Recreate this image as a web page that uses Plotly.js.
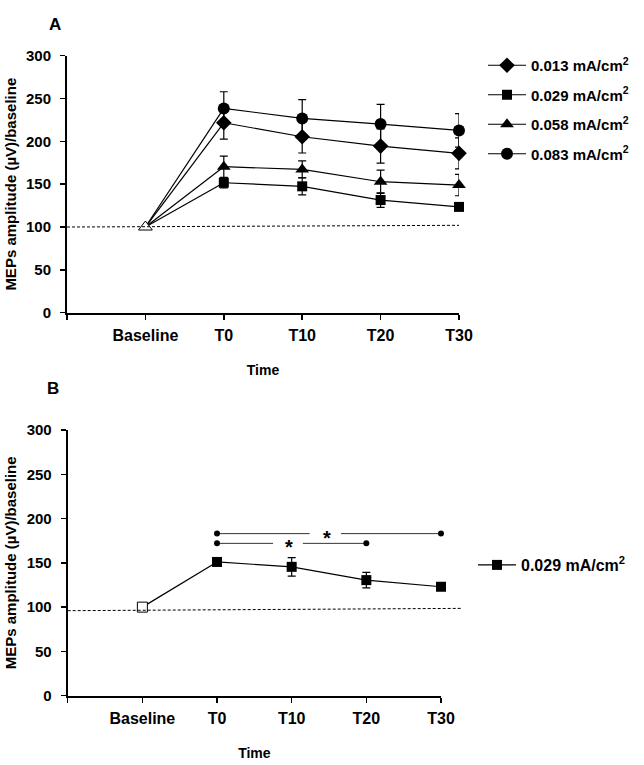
<!DOCTYPE html>
<html>
<head>
<meta charset="utf-8">
<script src="https://cdn.plot.ly/plotly-3.0.1.min.js"></script>
<style>html,body{margin:0;padding:0;background:#fff;}#chart{width:644px;height:765px;}</style>
</head>
<body>
<div id="chart"></div>
<script>
// ---------- data ----------
const timeLabels = ['Baseline', 'T0', 'T10', 'T20', 'T30'];
const postLabels = ['T0', 'T10', 'T20', 'T30'];
const baselineValue = 100;

const namesA = ['0.013 mA/cm<sup>2</sup>', '0.029 mA/cm<sup>2</sup>', '0.058 mA/cm<sup>2</sup>', '0.083 mA/cm<sup>2</sup>'];
const a013 = [221.7, 205.4, 194.5, 186.0];
const a013Err = [19, 19, 20, 18];
const a029 = [151.7, 147.5, 131.5, 123.5];
const a029Err = [6, 10, 8.5, 4];
const a058 = [170.4, 167.3, 152.9, 149.0];
const a058Err = [12.4, 10, 13.6, 12.5];
const a083 = [238.5, 226.8, 220.2, 212.8];
const a083Err = [19.4, 22, 23, 19.5];

const nameB = '0.029 mA/cm<sup>2</sup>';
const b029 = [151.0, 145.5, 130.5, 123.0];
const b029Err = [4, 10.5, 8.7, 3.5];

// dashed reference lines (x in category index units, Baseline = 0)
const refAx = [-1, 4.0];
const refAy = [100, 102];
const refBx = [-1, 4.29];
const refBy = [96, 98.6];

// significance brackets in panel B
const sig1From = 'T0', sig1To = 'T30', sig1Y = 183, sig1StarX = 2.47, sig1Gap = [2.24, 2.66];
const sig2From = 'T0', sig2To = 'T20', sig2Y = 172, sig2StarX = 1.96, sig2Gap = [1.75, 2.15];

// ---------- helpers ----------
const xOf = l => timeLabels.indexOf(l);
const xRange = [-1, 4];
const FONT = 'Liberation Sans, Arial, sans-serif';

const traces = [];
function addSeries(vals, errs, name, symbol, size, xa, ya, legendName) {
  traces.push({
    x: [xOf('Baseline'), xOf('T0')], y: [baselineValue, vals[0]],
    mode: 'lines', line: {color: '#000', width: 1.2},
    showlegend: false, hoverinfo: 'skip', xaxis: xa, yaxis: ya
  });
  traces.push({
    x: postLabels.map(xOf), y: vals, name: name, legendgroup: name + xa,
    legend: legendName, cliponaxis: false,
    mode: 'lines+markers',
    line: {color: '#000', width: 1.2},
    marker: {symbol: symbol, size: size, color: '#000'},
    error_y: {type: 'data', array: errs, visible: true, color: '#000', thickness: 1.2, width: 4},
    xaxis: xa, yaxis: ya
  });
}
addSeries(a013, a013Err, namesA[0], 'diamond', 12, 'x', 'y', 'legend');
addSeries(a029, a029Err, namesA[1], 'square', 10, 'x', 'y', 'legend');
addSeries(a058, a058Err, namesA[2], 'triangle-up', 12, 'x', 'y', 'legend');
addSeries(a083, a083Err, namesA[3], 'circle', 12, 'x', 'y', 'legend');
traces.push({
  x: [xOf('Baseline')], y: [baselineValue], mode: 'markers', cliponaxis: false,
  marker: {symbol: 'triangle-up', size: 12, color: '#fff', line: {color: '#000', width: 1}},
  showlegend: false, xaxis: 'x', yaxis: 'y'
});

addSeries(b029, b029Err, nameB, 'square', 10, 'x2', 'y2', 'legend2');
traces.push({
  x: [xOf('Baseline')], y: [baselineValue], mode: 'markers', cliponaxis: false,
  marker: {symbol: 'square', size: 10, color: '#fff', line: {color: '#000', width: 1}},
  showlegend: false, xaxis: 'x2', yaxis: 'y2'
});

function addBracket(from, to, y, gap) {
  traces.push({
    x: [xOf(from), gap[0], null, gap[1], xOf(to)], y: [y, y, null, y, y],
    mode: 'lines', line: {color: '#333', width: 1}, connectgaps: false,
    showlegend: false, hoverinfo: 'skip', xaxis: 'x2', yaxis: 'y2'
  });
  traces.push({
    x: [xOf(from), xOf(to)], y: [y, y], mode: 'markers', cliponaxis: false,
    marker: {symbol: 'circle', size: 6, color: '#000'},
    showlegend: false, hoverinfo: 'skip', xaxis: 'x2', yaxis: 'y2'
  });
}
addBracket(sig1From, sig1To, sig1Y, sig1Gap);
addBracket(sig2From, sig2To, sig2Y, sig2Gap);

const toDom = x => (x - xRange[0]) / (xRange[1] - xRange[0]);
const shapes = [
  {type: 'line', xref: 'x domain', yref: 'y', x0: toDom(refAx[0]), x1: toDom(refAx[1]), y0: refAy[0], y1: refAy[1],
   line: {color: '#000', width: 1, dash: '3px,2px'}},
  {type: 'line', xref: 'x2 domain', yref: 'y2', x0: toDom(refBx[0]), x1: toDom(refBx[1]), y0: refBy[0], y1: refBy[1],
   line: {color: '#000', width: 1, dash: '3px,2px'}}
];

const tickFontX = {family: FONT, size: 16, color: '#000', weight: 'bold'};
const tickFontY = {family: FONT, size: 15, color: '#000', weight: 'bold'};
const titleFont = {family: FONT, size: 14, color: '#000', weight: 'bold'};
const yTitleFont = {family: FONT, size: 15, color: '#000', weight: 'bold'};

function xAxis(domain, anchor) {
  return {
    domain: domain, anchor: anchor, range: xRange, fixedrange: true,
    tickmode: 'array', tickvals: [-1].concat(timeLabels.map(xOf)), ticktext: [' '].concat(timeLabels),
    showline: true, linecolor: '#000', linewidth: 2, ticks: 'outside', ticklen: 5, tickwidth: 1.5, tickcolor: '#000',
    showgrid: false, zeroline: false, tickfont: tickFontX, ticklabelstandoff: 2,
    title: {text: 'Time', font: titleFont, standoff: 22}
  };
}
function yAxis(domain, anchor) {
  return {
    domain: domain, anchor: anchor, range: [0, 300], fixedrange: true,
    tickvals: [0, 50, 100, 150, 200, 250, 300],
    showline: true, linecolor: '#000', linewidth: 2, ticks: 'outside', ticklen: 5, tickwidth: 1.5, tickcolor: '#000',
    showgrid: false, zeroline: false, tickfont: tickFontY, ticklabelstandoff: 6,
    title: {text: 'MEPs amplitude (µV)/baseline', font: yTitleFont, standoff: 6}
  };
}

const layout = {
  width: 644, height: 765,
  margin: {l: 0, r: 0, t: 0, b: 0},
  paper_bgcolor: '#fff', plot_bgcolor: '#fff',
  showlegend: true,
  xaxis: xAxis([67 / 644, 459 / 644], 'y'),
  yaxis: yAxis([(765 - 312.7) / 765, (765 - 55.7) / 765], 'x'),
  xaxis2: xAxis([67.7 / 644, 441 / 644], 'y2'),
  yaxis2: yAxis([(765 - 695.7) / 765, (765 - 430) / 765], 'x2'),
  legend: {x: 483 / 644, y: (765 - 49) / 765, xanchor: 'left', yanchor: 'top',
           font: {family: FONT, size: 15, color: '#000', weight: 'bold'},
           itemwidth: 38, traceorder: 'grouped', tracegroupgap: 7, bgcolor: 'rgba(0,0,0,0)'},
  legend2: {x: 473 / 644, y: (765 - 565) / 765, xanchor: 'left', yanchor: 'middle',
            font: {family: FONT, size: 16, color: '#000', weight: 'bold'},
            itemwidth: 38, bgcolor: 'rgba(0,0,0,0)'},
  shapes: shapes,
  annotations: [
    {text: 'A', xref: 'paper', yref: 'paper', x: 47 / 644, y: (765 - 13) / 765, showarrow: false,
     font: {family: FONT, size: 17, color: '#000', weight: 'bold'}},
    {text: 'B', xref: 'paper', yref: 'paper', x: 45 / 644, y: (765 - 388) / 765, showarrow: false,
     font: {family: FONT, size: 17, color: '#000', weight: 'bold'}},
    {text: '*', xref: 'x2', yref: 'y2', x: sig1StarX, y: sig1Y, yshift: -4, showarrow: false,
     font: {family: FONT, size: 20, color: '#000', weight: 'bold'}},
    {text: '*', xref: 'x2', yref: 'y2', x: sig2StarX, y: sig2Y, yshift: -4, showarrow: false,
     font: {family: FONT, size: 20, color: '#000', weight: 'bold'}}
  ]
};

Plotly.newPlot('chart', traces, layout, {displayModeBar: false, staticPlot: true});
</script>
</body>
</html>
